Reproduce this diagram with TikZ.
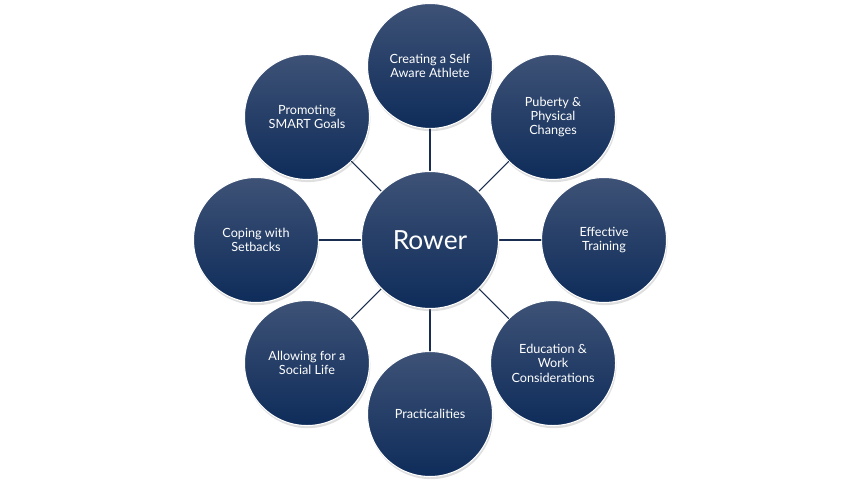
\documentclass[tikz,border=0pt]{standalone}
\usepackage{fontspec}
\setmainfont{Lato}
\usetikzlibrary{shadows,calc}
\definecolor{navytop}{RGB}{62,82,118}
\definecolor{navybot}{RGB}{14,44,90}
\definecolor{linkcol}{RGB}{25,45,80}

\begin{document}
\begin{tikzpicture}[line cap=round, line join=round,
  hub/.style={circle, minimum size=2.74cm, inner sep=0pt, top color=navytop, bottom color=navybot,
    draw=white, line width=0.6pt, drop shadow={opacity=0.25, shadow xshift=0.5pt, shadow yshift=-1.5pt},
    text=white, font=\fontsize{15}{18}\selectfont},
  topic/.style={circle, minimum size=2.5cm, inner sep=0pt, top color=navytop, bottom color=navybot,
    draw=white, line width=0.6pt, drop shadow={opacity=0.25, shadow xshift=0.5pt, shadow yshift=-1.5pt},
    text=white, align=center, font=\fontsize{7.2}{8.2}\selectfont},
  link/.style={draw=linkcol, line width=0.6pt}]

\useasboundingbox (0,0) rectangle (17.3,9.7);

% Centro
\coordinate (c) at (8.6,4.9);

% Cerchi esterni
\node[topic] (selfaware) at ($(c)+(90:3.48)$) {Creating a Self\\Aware Athlete};
\node[topic] (puberty)   at ($(c)+(45:3.48)$) {Puberty \&\\Physical\\Changes};
\node[topic] (training)  at ($(c)+(0:3.48)$) {Effective\\Training};
\node[topic] (education) at ($(c)+(-45:3.48)$) {Education \&\\Work\\Considerations};
\node[topic] (practical) at ($(c)+(-90:3.48)$) {Practicalities};
\node[topic] (social)    at ($(c)+(-135:3.48)$) {Allowing for a\\Social Life};
\node[topic] (setbacks)  at ($(c)+(180:3.48)$) {Coping with\\Setbacks};
\node[topic] (smart)     at ($(c)+(135:3.48)$) {Promoting\\SMART Goals};

% Collegamenti
\foreach \t in {selfaware,puberty,training,education,practical,social,setbacks,smart}
  \draw[link] (c) -- (\t);

% Nodo centrale
\node[hub] (rower) at (c) {Rower};

\end{tikzpicture}
\end{document}
